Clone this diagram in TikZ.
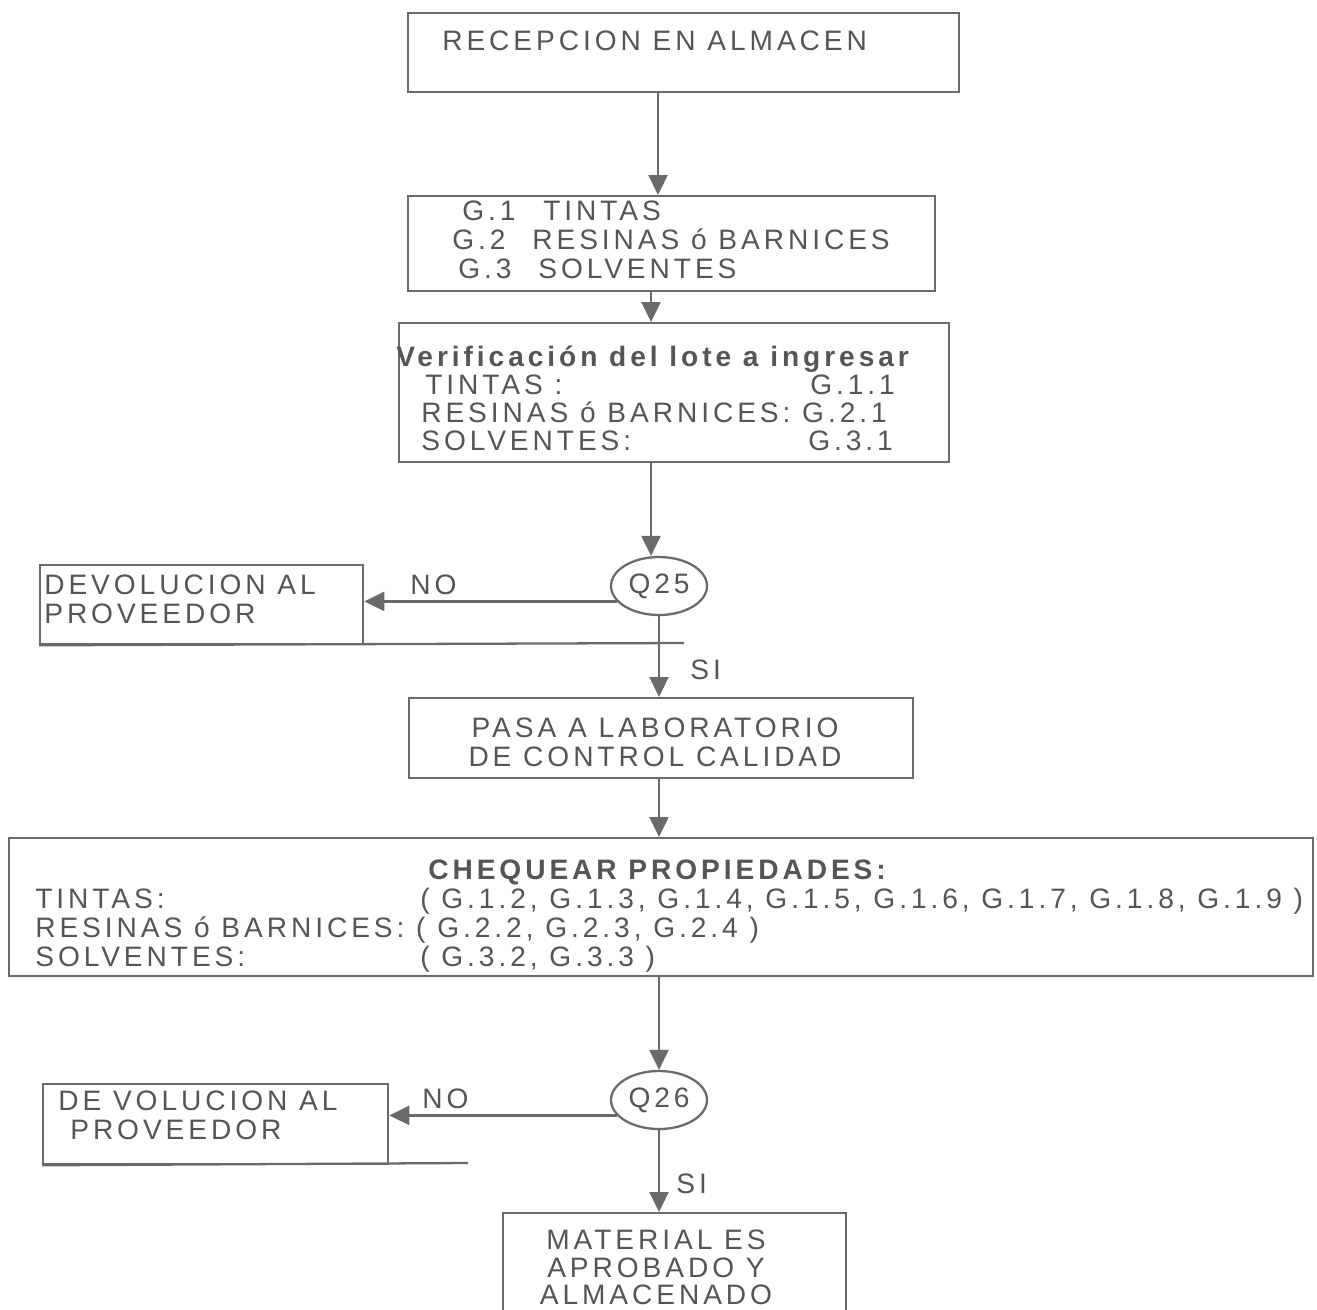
\documentclass[tikz,border=0pt]{standalone}
\usepackage{fontspec}
\setmainfont{Liberation Sans}[LetterSpace=14]
\usetikzlibrary{arrows.meta,shapes.geometric}
\newlength\pxu \setlength\pxu{0.02cm}
\definecolor{lnc}{HTML}{6A6A6A}
\definecolor{tc}{HTML}{555555}
\begin{document}
\begin{tikzpicture}[x=0.02cm,y=-0.02cm, font=\fontsize{16pt}{18pt}\selectfont,
 box/.style={draw=lnc, line width=1.3pt, inner sep=0, anchor=north west},
 dec/.style={draw=lnc, line width=1.3pt, ellipse, inner sep=0, minimum width=96\pxu, minimum height=58\pxu, text=tc},
 txt/.style={anchor=base west, inner sep=0, text=tc},
 ctxt/.style={anchor=base, inner sep=0, text=tc},
 arr/.style={draw=lnc, line width=1.3pt, -{Triangle[width=0.38cm,length=0.4cm]}},
 plain/.style={draw=lnc, line width=1.3pt}]
\useasboundingbox (0,0) rectangle (1317,1309);
% boxes
\node[box, minimum width=551\pxu, minimum height=79\pxu] (rec) at (407,12) {};
\node[box, minimum width=527\pxu, minimum height=95\pxu] (grp) at (407,195) {};
\node[box, minimum width=550\pxu, minimum height=139\pxu] (ver) at (398,322) {};
\node[box, minimum width=323\pxu, minimum height=79\pxu] (dev) at (39,564) {};
\node[box, minimum width=504\pxu, minimum height=80\pxu] (pasa) at (408,697) {};
\node[box, minimum width=1304\pxu, minimum height=138\pxu] (chq) at (8,837) {};
\node[box, minimum width=345\pxu, minimum height=80\pxu] (dv2) at (42,1083) {};
\node[box, minimum width=343\pxu, minimum height=115\pxu] (mat) at (502,1212) {};
\node[dec] (q25) at (659,586) {Q25};
\node[dec] (q26) at (659,1100) {Q26};
% texts
\node[txt] (t1) at (442,50) {RECEPCION EN ALMACEN};
\node[txt] (t2) at (462,220) {\makebox[81\pxu][l]{G.1}TINTAS};
\node[txt] (t3) at (452,249) {\makebox[80\pxu][l]{G.2}RESINAS ó BARNICES};
\node[txt] (t4) at (458,278) {\makebox[80\pxu][l]{G.3}SOLVENTES};
\node[txt] (t5) at (396,366) {\textbf{Verificación del lote a ingresar}};
\node[txt] (t6) at (425,394) {TINTAS :};
\node[txt] (t6b) at (810,394) {G.1.1};
\node[txt] (t7) at (421,422) {RESINAS ó BARNICES: G.2.1};
\node[txt] (t8) at (421,450) {SOLVENTES:};
\node[txt] (t8b) at (808,450) {G.3.1};
\node[txt] (t9) at (44,594) {DEVOLUCION AL};
\node[txt] (t10) at (44,623) {PROVEEDOR};
\node[txt] (no1) at (410,594) {NO};
\node[txt] (si1) at (690,679) {SI};
\node[ctxt] (t11) at (655,737) {PASA A LABORATORIO};
\node[ctxt] (t12) at (655,766) {DE CONTROL CALIDAD};
\node[txt] (t13) at (428,879) {\textbf{CHEQUEAR PROPIEDADES:}};
\node[txt] (t14) at (35,908) {TINTAS:};
\node[txt] (t14b) at (420,908) {( G.1.2, G.1.3, G.1.4, G.1.5, G.1.6, G.1.7, G.1.8, G.1.9 )};
\node[txt] (t15) at (35,937) {RESINAS ó BARNICES: ( G.2.2, G.2.3, G.2.4 )};
\node[txt] (t16) at (35,966) {SOLVENTES:};
\node[txt] (t16b) at (420,966) {( G.3.2, G.3.3 )};
\node[txt] (t17) at (58,1110) {DE VOLUCION AL};
\node[txt] (t18) at (70,1139) {PROVEEDOR};
\node[txt] (no2) at (422,1108) {NO};
\node[txt] (si2) at (676,1193) {SI};
\node[ctxt] (t19) at (656,1249) {MATERIAL ES};
\node[ctxt] (t20) at (656,1277) {APROBADO Y};
\node[ctxt] (t21) at (656,1304) {ALMACENADO};
% connectors
\coordinate (c1) at (658,0);
\coordinate (c2) at (651,0);
\coordinate (c3) at (659,0);
\coordinate (e1) at (684,643);
\coordinate (e2) at (468,1163);
\draw[arr] (rec.south -| c1) -- (grp.north -| c1);
\draw[arr] (grp.south -| c2) -- (ver.north -| c2);
\draw[arr] (ver.south -| c2) -- (c2 |- q25.north);
\draw[arr] (q25.200) -- (q25.200 -| dev.east);
\draw[arr] (q25.south) -- (q25.south |- pasa.north);
\draw[plain] (dev.south west) -- (e1);
\draw[arr] (pasa.south -| c3) -- (chq.north -| c3);
\draw[arr] (chq.south -| c3) -- (q26.north);
\draw[arr] (q26.200) -- (q26.200 -| dv2.east);
\draw[plain] (dv2.south west) -- (e2);
\draw[arr] (q26.south) -- (q26.south |- mat.north);
\end{tikzpicture}
\end{document}
